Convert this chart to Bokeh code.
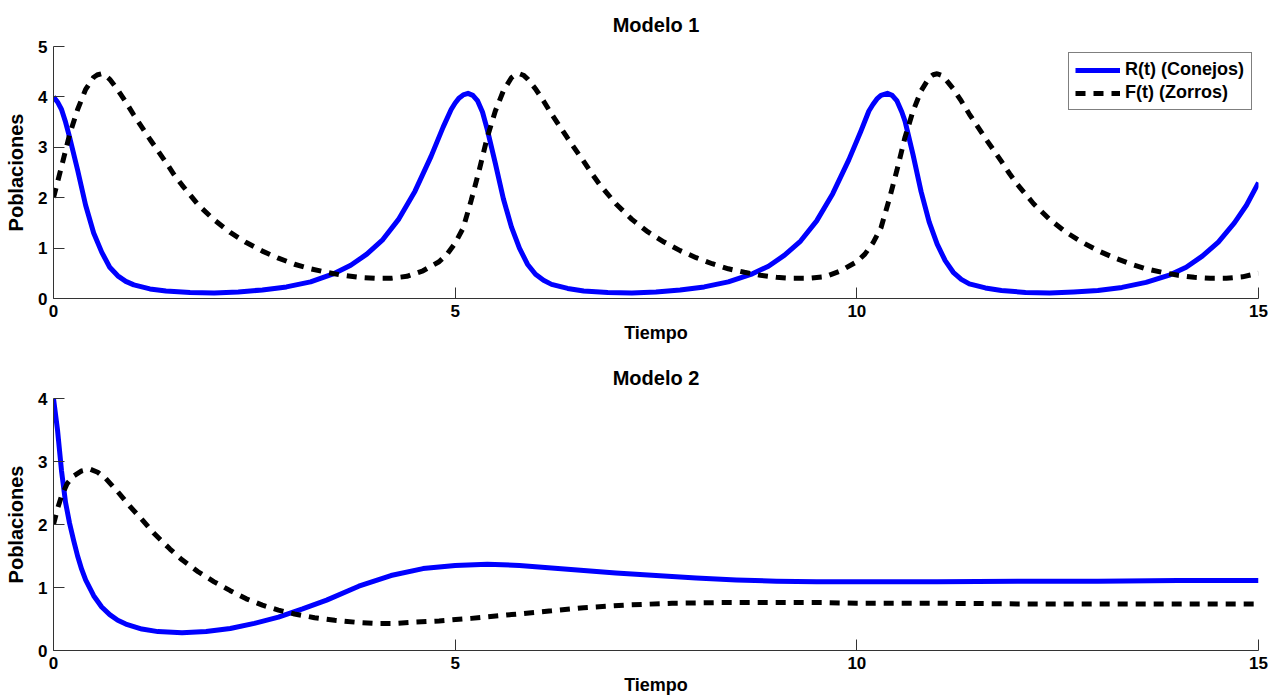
from bokeh.plotting import figure
from bokeh.models import Range1d, FixedTicker, Legend, LegendItem, Spacer
from bokeh.layouts import column
from bokeh.embed import file_html
from bokeh.resources import INLINE

# ---------------- Modelo 1 ----------------
t1_R = [0, 0.05, 0.1, 0.15, 0.2, 0.3, 0.4, 0.5, 0.6, 0.7, 0.8, 0.9, 1.0, 1.2, 1.4, 1.7, 2.0, 2.3,
        2.6, 2.9, 3.2, 3.5, 3.7, 3.9, 4.1, 4.3, 4.5, 4.7, 4.85, 4.95, 5.0, 5.05, 5.1, 5.16, 5.22,
        5.28, 5.34, 5.4, 5.5, 5.6, 5.7, 5.8, 5.9, 6.0, 6.1, 6.2, 6.4, 6.6, 6.9, 7.2, 7.5, 7.8,
        8.1, 8.4, 8.7, 8.9, 9.1, 9.3, 9.5, 9.7, 9.9, 10.05, 10.15, 10.2, 10.25, 10.3, 10.38,
        10.44, 10.5, 10.56, 10.6, 10.7, 10.8, 10.9, 11.0, 11.1, 11.2, 11.3, 11.4, 11.6, 11.8,
        12.1, 12.4, 12.7, 13.0, 13.3, 13.6, 13.9, 14.1, 14.3, 14.5, 14.7, 14.85, 15.0]
R1 = [4.00, 3.90, 3.75, 3.50, 3.20, 2.55, 1.85, 1.30, 0.92, 0.62, 0.45, 0.34, 0.27, 0.19, 0.15,
      0.12, 0.11, 0.13, 0.17, 0.23, 0.33, 0.50, 0.66, 0.88, 1.17, 1.58, 2.13, 2.82, 3.40, 3.75,
      3.88, 3.98, 4.04, 4.07, 4.03, 3.92, 3.70, 3.35, 2.68, 1.98, 1.42, 1.00, 0.68, 0.48, 0.36,
      0.28, 0.20, 0.15, 0.12, 0.11, 0.13, 0.17, 0.23, 0.33, 0.49, 0.64, 0.86, 1.14, 1.54, 2.08,
      2.75, 3.32, 3.72, 3.85, 3.96, 4.03, 4.07, 4.03, 3.92, 3.70, 3.52, 2.85, 2.12, 1.52, 1.08,
      0.75, 0.52, 0.38, 0.29, 0.21, 0.16, 0.12, 0.11, 0.13, 0.16, 0.22, 0.32, 0.47, 0.62, 0.84,
      1.12, 1.50, 1.85, 2.30]

t1_F = [0, 0.1, 0.2, 0.3, 0.4, 0.5, 0.55, 0.6, 0.65, 0.7, 0.8, 0.9, 1.0, 1.1, 1.2, 1.3, 1.4, 1.5,
        1.6, 1.8, 2.0, 2.2, 2.4, 2.6, 2.8, 3.0, 3.2, 3.4, 3.6, 3.8, 4.0, 4.2, 4.4, 4.6, 4.8, 4.9,
        5.0, 5.1, 5.2, 5.3, 5.4, 5.5, 5.6, 5.7, 5.75, 5.8, 5.85, 5.9, 6.0, 6.1, 6.2, 6.3, 6.4,
        6.5, 6.6, 6.7, 6.8, 7.0, 7.2, 7.4, 7.6, 7.8, 8.0, 8.2, 8.4, 8.6, 8.8, 9.0, 9.2, 9.4, 9.6,
        9.8, 10.0, 10.1, 10.2, 10.3, 10.4, 10.5, 10.6, 10.7, 10.8, 10.9, 10.95, 11.0, 11.05,
        11.1, 11.2, 11.3, 11.4, 11.5, 11.6, 11.7, 11.8, 11.9, 12.0, 12.2, 12.4, 12.6, 12.8, 13.0,
        13.2, 13.4, 13.6, 13.8, 14.0, 14.2, 14.4, 14.6, 14.8, 15.0]
F1 = [2.00, 2.62, 3.25, 3.75, 4.15, 4.39, 4.44, 4.46, 4.42, 4.35, 4.14, 3.90, 3.64, 3.40, 3.16,
      2.93, 2.70, 2.46, 2.25, 1.86, 1.56, 1.31, 1.11, 0.94, 0.80, 0.68, 0.59, 0.52, 0.46, 0.42,
      0.40, 0.40, 0.44, 0.55, 0.73, 0.88, 1.10, 1.40, 1.95, 2.55, 3.20, 3.72, 4.12, 4.38, 4.44,
      4.46, 4.43, 4.36, 4.16, 3.92, 3.66, 3.42, 3.18, 2.95, 2.72, 2.48, 2.26, 1.88, 1.57, 1.32,
      1.12, 0.95, 0.81, 0.69, 0.59, 0.52, 0.46, 0.42, 0.40, 0.40, 0.43, 0.55, 0.73, 0.88, 1.10,
      1.40, 1.95, 2.55, 3.20, 3.72, 4.12, 4.38, 4.44, 4.46, 4.43, 4.36, 4.16, 3.92, 3.66, 3.42,
      3.18, 2.95, 2.72, 2.48, 2.26, 1.88, 1.57, 1.32, 1.12, 0.95, 0.81, 0.69, 0.59, 0.52, 0.46,
      0.42, 0.40, 0.40, 0.43, 0.50]

# ---------------- Modelo 2 ----------------
t2_R = [0, 0.05, 0.1, 0.15, 0.2, 0.25, 0.3, 0.35, 0.4, 0.5, 0.6, 0.7, 0.8, 0.9, 1.0, 1.1, 1.3,
        1.6, 1.9, 2.2, 2.5, 2.8, 3.1, 3.4, 3.8, 4.2, 4.6, 5.0, 5.4, 5.8, 6.2, 6.6, 7.0, 7.5, 8.0,
        8.5, 9.0, 9.5, 10.0, 11.0, 12.0, 13.0, 14.0, 15.0]
R2 = [4.00, 3.50, 2.85, 2.35, 2.02, 1.75, 1.50, 1.29, 1.12, 0.87, 0.69, 0.57, 0.48, 0.42, 0.38,
      0.34, 0.30, 0.28, 0.30, 0.35, 0.43, 0.53, 0.66, 0.80, 1.02, 1.19, 1.30, 1.35, 1.37, 1.35,
      1.31, 1.27, 1.23, 1.19, 1.15, 1.12, 1.10, 1.09, 1.09, 1.09, 1.10, 1.10, 1.11, 1.11]

t2_F = [0, 0.05, 0.1, 0.17, 0.25, 0.35, 0.45, 0.55, 0.65, 0.8, 0.95, 1.1, 1.25, 1.45, 1.6, 1.8,
        2.0, 2.2, 2.4, 2.6, 2.8, 3.0, 3.25, 3.5, 3.75, 4.0, 4.25, 4.5, 4.8, 5.2, 5.7, 6.2, 6.6,
        7.1, 7.7, 8.3, 9.0, 9.6, 10.0, 11.0, 12.0, 13.0, 14.0, 15.0]
F2 = [2.00, 2.25, 2.45, 2.65, 2.77, 2.85, 2.88, 2.83, 2.73, 2.52, 2.29, 2.08, 1.86, 1.61, 1.44,
      1.25, 1.09, 0.95, 0.82, 0.72, 0.64, 0.58, 0.52, 0.48, 0.45, 0.43, 0.43, 0.45, 0.47, 0.51,
      0.57, 0.63, 0.68, 0.72, 0.75, 0.76, 0.76, 0.76, 0.75, 0.75, 0.74, 0.74, 0.74, 0.74]

x_ticks = [0, 5, 10, 15]
legend_labels = ["R(t) (Conejos)", "F(t) (Zorros)"]
titles = ["Modelo 1", "Modelo 2"]
x_label = "Tiempo"
y_label = "Poblaciones"

FONT = "Liberation Sans"
AXIS_COLOR = "#333333"


def make_panel(title, ymax, tR, R, tF, F, height, bottom, title_standoff, with_legend):
    p = figure(width=1279, height=height, output_backend="svg", toolbar_location=None,
               x_range=Range1d(0, 15), y_range=Range1d(0, ymax),
               min_border_left=53, min_border_right=21,
               min_border_top=0, min_border_bottom=bottom,
               title=title)
    p.title.align = "center"
    p.title.text_font = FONT
    p.title.text_font_style = "bold"
    p.title.text_font_size = "20px"
    p.title.text_color = "black"
    p.title.standoff = title_standoff

    p.grid.visible = False
    p.outline_line_color = None
    p.background_fill_color = "white"
    p.border_fill_color = "white"

    p.xaxis.ticker = FixedTicker(ticks=x_ticks)
    p.yaxis.ticker = FixedTicker(ticks=list(range(0, ymax + 1)))
    for ax in (p.xaxis, p.yaxis):
        ax.major_tick_in = 11
        ax.major_tick_out = 0
        ax.minor_tick_in = 0
        ax.minor_tick_out = 0
        ax.axis_line_color = AXIS_COLOR
        ax.major_tick_line_color = AXIS_COLOR
        ax.major_label_text_font = FONT
        ax.major_label_text_font_style = "bold"
        ax.major_label_text_font_size = "17px"
        ax.major_label_text_color = "black"
        ax.axis_label_text_font = FONT
        ax.axis_label_text_font_style = "bold"
        ax.axis_label_text_color = "black"
        ax.major_label_standoff = 6
    p.xaxis.axis_label = x_label
    p.xaxis.axis_label_text_font_size = "18px"
    p.xaxis.axis_label_standoff = 3
    p.yaxis.axis_label = y_label
    p.yaxis.axis_label_text_font_size = "20px"
    p.yaxis.axis_label_standoff = 8

    r1 = p.line(tR, R, line_color="#0000FF", line_width=5, line_join="round")
    r2 = p.line(tF, F, line_color="black", line_width=5, line_dash="10 8")

    if with_legend:
        leg = Legend(items=[LegendItem(label=legend_labels[0], renderers=[r1]),
                            LegendItem(label=legend_labels[1], renderers=[r2])],
                     location="top_right", margin=6, padding=6, spacing=2,
                     glyph_width=45, glyph_height=18, label_height=18,
                     label_standoff=5, label_width=120,
                     label_text_font=FONT, label_text_font_style="bold",
                     label_text_font_size="18px", label_text_color="black",
                     border_line_color="black", border_line_width=1,
                     background_fill_color="white", background_fill_alpha=1.0)
        p.add_layout(leg)
    return p


p1 = make_panel(titles[0], 5, t1_R, R1, t1_F, F1, 349, 51, 22, True)
p2 = make_panel(titles[1], 4, t2_R, R2, t2_F, F2, 344, 48, 20, False)

layout = column(p1, Spacer(width=1279, height=5), p2, spacing=0)
open("out.html", "w").write(file_html(layout, INLINE))
